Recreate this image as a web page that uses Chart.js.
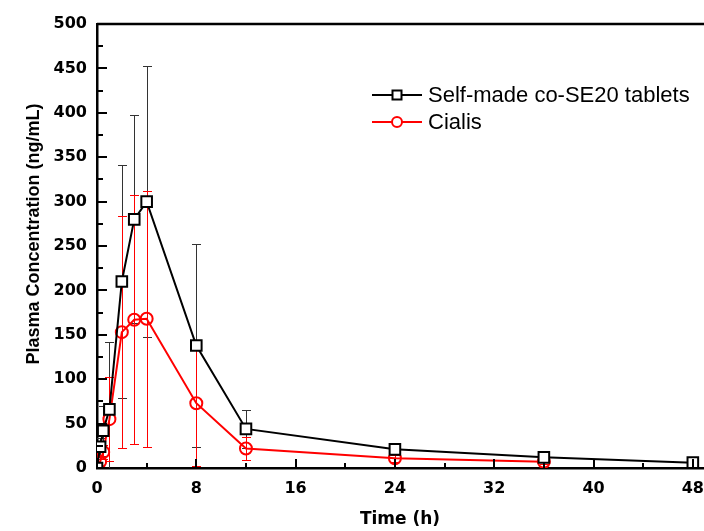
<!DOCTYPE html>
<html><head><meta charset="utf-8">
<script src="https://cdn.jsdelivr.net/npm/chart.js@4.4.0/dist/chart.umd.min.js"></script>
<style>html,body{margin:0;padding:0;background:#fff;} #wrap{width:704px;height:531px;position:relative;}</style>
</head><body><div id="wrap"><canvas id="c" width="704" height="531"></canvas></div>
<script>
// ---- data ----
const selfMadeTime = [0, 0.25, 0.5, 1, 2, 3, 4, 8, 12, 24, 36, 48];
const selfMadeMean = [0, 24, 42, 66, 210, 280, 300, 138, 44, 21, 12, 6];
const selfMadeSD   = [0, 10, 28, 76, 131, 117, 153, 114, 21, 4, 3, 2];
const cialisTime   = [0, 0.25, 0.5, 1, 2, 3, 4, 8, 12, 24, 36];
const cialisMean   = [0, 7, 18, 55, 153, 167, 168, 73, 22, 11, 7];
const cialisSD     = [0, 5, 8, 47, 131, 140, 144, 71, 13, 4, 3];
const xTickValues  = [0, 4, 8, 12, 16, 20, 24, 28, 32, 36, 40, 44, 48];
const xLabelValues = [0, 8, 16, 24, 32, 40, 48];
const yTickValues  = [0,25,50,75,100,125,150,175,200,225,250,275,300,325,350,375,400,425,450,475,500];
const yLabelValues = [0,50,100,150,200,250,300,350,400,450,500];
const seriesNames  = ['Self-made co-SE20 tablets', 'Cialis'];
const xTitle = 'Time (h)';
const yTitle = 'Plasma Concentration (ng/mL)';

const sdLists = [selfMadeSD, cialisSD];
const toPts = (xs, ys) => xs.map((x, i) => ({x: x, y: ys[i]}));

const errorBars = {
  id: 'errorBars',
  beforeDatasetsDraw(chart) {
    const ctx = chart.ctx, xs = chart.scales.x, ys = chart.scales.y;
    const colors = ['#333333', '#ff0000'];
    ctx.save();
    ctx.beginPath();
    ctx.rect(chart.chartArea.left, chart.chartArea.top - 1, chart.chartArea.right - chart.chartArea.left, chart.chartArea.bottom - chart.chartArea.top + 1);
    ctx.clip();
    chart.data.datasets.forEach((ds, di) => {
      ctx.strokeStyle = colors[di];
      ctx.lineWidth = 1;
      ds.data.forEach((p, j) => {
        const sd = sdLists[di][j];
        if (!sd) return;
        const x = Math.round(xs.getPixelForValue(p.x)) + 0.5;
        const yt = Math.round(ys.getPixelForValue(p.y + sd)) + 0.5;
        const yb = Math.round(ys.getPixelForValue(p.y - sd)) + 0.5;
        ctx.beginPath();
        ctx.moveTo(x, yt); ctx.lineTo(x, yb);
        ctx.moveTo(x - 4.5, yt); ctx.lineTo(x + 4.5, yt);
        ctx.moveTo(x - 4.5, yb); ctx.lineTo(x + 4.5, yb);
        ctx.stroke();
      });
    });
    ctx.restore();
  }
};

const frameAndTicks = {
  id: 'frameAndTicks',
  afterDraw(chart) {
    const ctx = chart.ctx, a = chart.chartArea, xs = chart.scales.x, ys = chart.scales.y;
    ctx.save();
    ctx.strokeStyle = '#000';
    ctx.lineWidth = 2;
    xTickValues.forEach(v => {
      const x = Math.round(xs.getPixelForValue(v));
      const len = xLabelValues.includes(v) ? 9 : 5;
      ctx.beginPath(); ctx.moveTo(x, a.bottom); ctx.lineTo(x, a.bottom - len); ctx.stroke();
    });
    yTickValues.forEach(v => {
      const y = Math.round(ys.getPixelForValue(v));
      const len = yLabelValues.includes(v) ? 10 : 6;
      ctx.beginPath(); ctx.moveTo(a.left, y); ctx.lineTo(a.left + len, y); ctx.stroke();
    });
    // top frame
    ctx.lineWidth = 2.5;
    ctx.beginPath(); ctx.moveTo(a.left, a.top); ctx.lineTo(a.right, a.top); ctx.stroke();
    // axis titles
    ctx.fillStyle = '#000';
    ctx.font = 'bold 17px "DejaVu Sans"';
    ctx.textAlign = 'center'; ctx.textBaseline = 'middle';
    ctx.fillText(xTitle, 400, 520);
    ctx.save();
    ctx.translate(34, 234);
    ctx.rotate(-Math.PI / 2);
    ctx.font = 'bold 18px "Liberation Sans"';
    ctx.fillText(yTitle, 0, 0);
    ctx.restore();
    // legend
    const rows = [
      {y: 95, color: '#000', style: 'rect'},
      {y: 122, color: '#ff0000', style: 'circle'}
    ];
    rows.forEach((r, i) => {
      ctx.strokeStyle = r.color; ctx.lineWidth = 2;
      ctx.beginPath(); ctx.moveTo(372, r.y); ctx.lineTo(422, r.y); ctx.stroke();
      ctx.fillStyle = '#fff';
      ctx.beginPath();
      if (r.style === 'rect') { ctx.rect(392.5, r.y - 4.5, 9, 9); }
      else { ctx.arc(397, r.y, 5, 0, Math.PI * 2); }
      ctx.fill(); ctx.stroke();
      ctx.fillStyle = '#000';
      ctx.font = '22px "Liberation Sans"';
      ctx.textAlign = 'left'; ctx.textBaseline = 'middle';
      ctx.fillText(seriesNames[i], 428, r.y + 1);
    });
    ctx.restore();
  }
};

new Chart(document.getElementById('c'), {
  type: 'line',
  data: {
    datasets: [
      {
        label: seriesNames[0],
        data: toPts(selfMadeTime, selfMadeMean),
        borderColor: '#000', backgroundColor: '#fff',
        borderWidth: 2, tension: 0,
        pointStyle: 'rect', pointRadius: 7.5, pointBorderWidth: 2,
        pointBackgroundColor: '#fff', pointBorderColor: '#000'
      },
      {
        label: seriesNames[1],
        data: toPts(cialisTime, cialisMean),
        borderColor: '#ff0000', backgroundColor: '#fff',
        borderWidth: 2, tension: 0,
        pointStyle: 'circle', pointRadius: 6, pointBorderWidth: 2,
        pointBackgroundColor: 'rgba(255,255,255,0)', pointBorderColor: '#ff0000'
      }
    ]
  },
  options: {
    responsive: false, animation: false, devicePixelRatio: 1,
    layout: {autoPadding: false, padding: {top: 24, right: 0, left: 0, bottom: 0}},
    plugins: {legend: {display: false}, tooltip: {enabled: false}},
    scales: {
      x: {
        type: 'linear', min: 0, max: 48.9,
        afterBuildTicks: s => { s.ticks = xTickValues.map(v => ({value: v})); },
        afterFit: s => { s.height = 63; s.paddingRight = 0; s.paddingLeft = 0; },
        ticks: {
          autoSkip: false, maxRotation: 0, padding: 11, color: '#000',
          font: {family: 'DejaVu Sans', weight: 'bold', size: 16},
          callback: v => xLabelValues.includes(v) ? String(v) : ''
        },
        grid: {display: true, drawOnChartArea: false, drawTicks: false},
        border: {display: true, color: '#000', width: 2.5}
      },
      y: {
        type: 'linear', min: 0, max: 500,
        afterBuildTicks: s => { s.ticks = yTickValues.map(v => ({value: v})); },
        afterFit: s => { s.width = 97; s.paddingTop = 0; s.paddingBottom = 0; },
        ticks: {
          autoSkip: false, padding: 10, color: '#000',
          font: {family: 'DejaVu Sans', weight: 'bold', size: 16},
          callback: v => yLabelValues.includes(v) ? String(v) : ''
        },
        grid: {display: true, drawOnChartArea: false, drawTicks: false},
        border: {display: true, color: '#000', width: 2.5}
      }
    }
  },
  plugins: [errorBars, frameAndTicks]
});
</script>
</body></html>
